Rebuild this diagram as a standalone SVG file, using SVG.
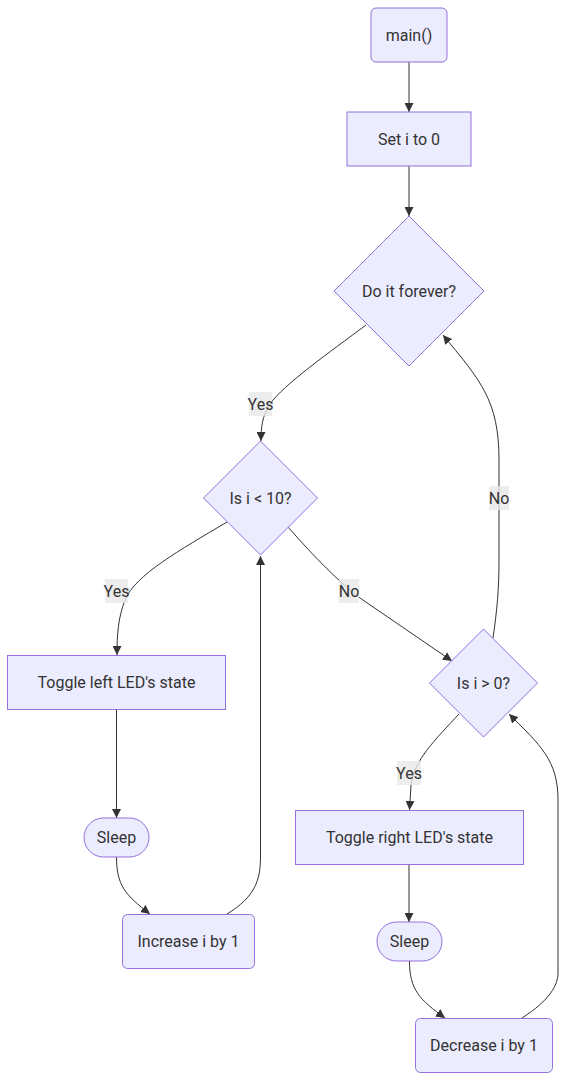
<svg xmlns="http://www.w3.org/2000/svg" width="566" height="1081" viewBox="0 0 566 1081">
<defs>
<marker id="arrow" viewBox="0 0 10 10" refX="10" refY="5" markerUnits="userSpaceOnUse" markerWidth="9" markerHeight="9" orient="auto">
<path d="M0,0 L10,5 L0,10 z" fill="#333333"/>
</marker>
<style>
.node rect, .node polygon { fill: #ECECFF; stroke: #9370DB; stroke-width: 1; }
.node text { font-family: Roboto, "Noto Sans", sans-serif; font-size: 16px; fill: #333333; text-anchor: middle; dominant-baseline: central; }
.edges path { fill: none; stroke: #333333; stroke-width: 1; marker-end: url(#arrow); }
.lbl rect { fill: #e8e8e8; opacity: 0.8; }
.lbl text { font-family: Roboto, "Noto Sans", sans-serif; font-size: 16px; fill: #333333; text-anchor: middle; dominant-baseline: central; }
</style>
</defs>
<rect width="566" height="1081" fill="#ffffff"/>
<g class="edges" id="connectors">
<path d="M409,62 L409,112"/>
<path d="M409,166 L409,216"/>
<path d="M366,325 C330,352 283,385 270,404 C262,416 261,428 261,441"/>
<path d="M227,522 C180,550 135,575 125,600 C118,618 117,635 117,655"/>
<path d="M288,527 Q330,575 360,598 L452,661"/>
<path d="M493,638 C497,610 499,590 499,560 L499,460 C499,400 480,380 443,335"/>
<path d="M459,714 C435,740 414,760 411,785 L409.5,810"/>
<path d="M116.5,710 L116.5,818"/>
<path d="M116.5,857 C116.5,885 125,895 150,914"/>
<path d="M227,914 C255,897 260.5,880 260.5,857 L260.5,556"/>
<path d="M409,864.5 L409,922"/>
<path d="M409.5,961 C409.5,990 420,1000 445,1018"/>
<path d="M522,1018 C550,1000 558,985 558,973 L558,800 C558,760 540,745 509,714"/>
</g>
<g id="edge-labels">
<g class="lbl" id="lbl-yes1"><rect x="249" y="392" width="23" height="24"/><text x="260.5" y="404">Yes</text></g>
<g class="lbl" id="lbl-yes2"><rect x="105" y="579" width="23" height="24"/><text x="116.5" y="591">Yes</text></g>
<g class="lbl" id="lbl-no1"><rect x="339" y="579" width="20" height="24"/><text x="349" y="591">No</text></g>
<g class="lbl" id="lbl-no2"><rect x="489" y="486" width="20" height="24"/><text x="499" y="498">No</text></g>
<g class="lbl" id="lbl-yes3"><rect x="397" y="761" width="24" height="24"/><text x="409" y="773">Yes</text></g>
</g>
<g class="node" id="node-main"><rect x="371" y="8" width="76" height="54" rx="5" ry="5"/><text x="409" y="35">main()</text></g>
<g class="node" id="node-set"><rect x="347" y="112" width="124" height="54"/><text x="409" y="139">Set i to 0</text></g>
<g class="node" id="node-forever"><polygon points="409,216 484,291 409,366 334,291"/><text x="409" y="291">Do it forever?</text></g>
<g class="node" id="node-lt10"><polygon points="260.5,441 317.5,498 260.5,555 203.5,498"/><text x="260.5" y="498">Is i &lt; 10?</text></g>
<g class="node" id="node-gt0"><polygon points="483.5,629 537.5,683 483.5,737 429.5,683"/><text x="483.5" y="683">Is i &gt; 0?</text></g>
<g class="node" id="node-toggle-left"><rect x="7.5" y="655.5" width="218" height="54"/><text x="116.5" y="682.5">Toggle left LED's state</text></g>
<g class="node" id="node-sleep-left"><rect x="84" y="818" width="65" height="39" rx="19.5" ry="19.5"/><text x="116.5" y="837.5">Sleep</text></g>
<g class="node" id="node-increase"><rect x="122.5" y="914.5" width="132" height="54" rx="5" ry="5"/><text x="188.5" y="941.5">Increase i by 1</text></g>
<g class="node" id="node-toggle-right"><rect x="295.5" y="810.5" width="228" height="54"/><text x="409.5" y="837.5">Toggle right LED's state</text></g>
<g class="node" id="node-sleep-right"><rect x="377" y="922" width="65" height="39" rx="19.5" ry="19.5"/><text x="409.5" y="941.5">Sleep</text></g>
<g class="node" id="node-decrease"><rect x="415.5" y="1018.5" width="137" height="54" rx="5" ry="5"/><text x="484" y="1045.5">Decrease i by 1</text></g>
</svg>
